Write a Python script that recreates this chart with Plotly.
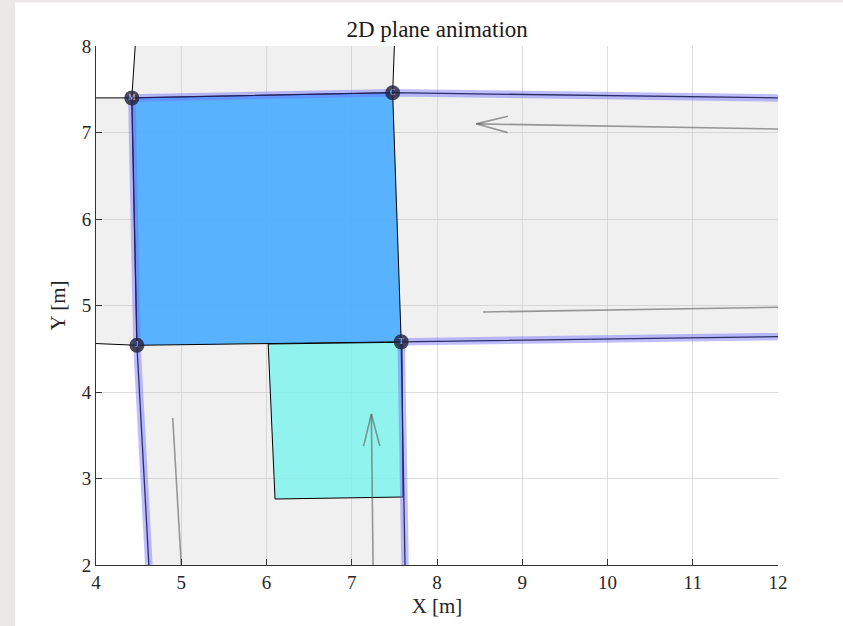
import numpy as np
import plotly.graph_objects as go

# ---------------- data ----------------
node_names = ["M", "C", "T", "J"]
node_x = [4.42, 7.48, 7.58, 4.48]
node_y = [7.40, 7.46, 4.58, 4.54]

# road (grey) area outline
road_x = [4.0, 4.42, 4.46, 7.50, 7.48, 12.0, 12.0, 7.58, 7.625, 4.62, 4.48, 4.0]
road_y = [7.40, 7.40, 8.0, 8.0, 7.46, 7.40, 4.64, 4.58, 2.0, 2.0, 4.54, 4.56]

# blue block (M, C, T, J)
blue_x = [4.42, 7.48, 7.58, 4.48]
blue_y = [7.40, 7.46, 4.58, 4.54]

# cyan block
cyan_x = [6.02, 7.59, 7.60, 6.10]
cyan_y = [4.555, 4.575, 2.786, 2.763]

# purple road boundaries
purple_a_x = [12.0, 7.48, 4.42, 4.48, 4.62]
purple_a_y = [7.40, 7.46, 7.40, 4.54, 2.0]
purple_b_x = [12.0, 7.58, 7.625]
purple_b_y = [4.64, 4.58, 2.0]

# thin black lane lines
black_lines = [
    ([4.0, 4.42], [7.40, 7.40]),
    ([4.42, 4.46], [7.40, 8.0]),
    ([7.48, 7.50], [7.46, 8.0]),
    ([4.0, 4.48], [4.56, 4.54]),
]

# grey guide lines: (x_start, y_start, x_end, y_end, has_head)
guide_x0 = [12.0, 12.0, 5.00, 7.25]
guide_y0 = [7.04, 4.98, 2.00, 2.00]
guide_x1 = [8.46, 8.54, 4.90, 7.23]
guide_y1 = [7.10, 4.925, 3.70, 3.745]
guide_head = [True, False, False, True]

# ---------------- figure ----------------
fig = go.Figure()

fig.add_trace(go.Scatter(x=road_x + [road_x[0]], y=road_y + [road_y[0]], mode="lines",
                         fill="toself", fillcolor="rgba(200,200,200,0.27)",
                         line=dict(width=0), hoverinfo="skip", showlegend=False))

fig.add_trace(go.Scatter(x=blue_x + [blue_x[0]], y=blue_y + [blue_y[0]], mode="lines",
                         fill="toself", fillcolor="rgba(75,172,255,0.92)",
                         line=dict(color="black", width=1), showlegend=False))

fig.add_trace(go.Scatter(x=cyan_x + [cyan_x[0]], y=cyan_y + [cyan_y[0]], mode="lines",
                         fill="toself", fillcolor="rgba(128,243,236,0.85)",
                         line=dict(color="black", width=1), showlegend=False))

for bx, by in black_lines:
    fig.add_trace(go.Scatter(x=bx, y=by, mode="lines",
                             line=dict(color="black", width=1), showlegend=False))

for px, py in [(purple_a_x, purple_a_y), (purple_b_x, purple_b_y)]:
    fig.add_trace(go.Scatter(x=px, y=py, mode="lines",
                             line=dict(color="rgba(110,110,255,0.45)", width=7.5),
                             showlegend=False))
    fig.add_trace(go.Scatter(x=px, y=py, mode="lines",
                             line=dict(color="rgba(30,30,90,0.9)", width=1.3),
                             showlegend=False))

gcol = "rgba(95,95,95,0.62)"
for x0, y0, x1, y1, h in zip(guide_x0, guide_y0, guide_x1, guide_y1, guide_head):
    fig.add_trace(go.Scatter(x=[x0, x1], y=[y0, y1], mode="lines",
                             line=dict(color=gcol, width=1.6), showlegend=False))
    if h:
        d = np.array([x1 - x0, y1 - y0])
        d = d / np.linalg.norm(d)
        n = np.array([-d[1], d[0]])
        L, W = 0.37, 0.095
        base = np.array([x1, y1]) - L * d
        p1 = base + W * n
        p2 = base - W * n
        fig.add_trace(go.Scatter(x=[p1[0], x1, p2[0]], y=[p1[1], y1, p2[1]], mode="lines",
                                 line=dict(color=gcol, width=1.6), showlegend=False))

fig.add_trace(go.Scatter(x=node_x, y=node_y, mode="markers+text", text=node_names,
                         textposition="middle center",
                         textfont=dict(color="rgba(220,220,255,0.9)", size=8, family="Liberation Serif"),
                         marker=dict(size=15, color="rgba(35,35,60,0.82)"),
                         showlegend=False))

serif = "Liberation Serif"
fig.update_layout(
    width=843, height=626,
    margin=dict(l=96, r=65, t=46, b=61),
    paper_bgcolor="white", plot_bgcolor="white",
    title=dict(text="2D plane animation", x=0.5185, xanchor="center", y=0.954, yanchor="middle",
               font=dict(family=serif, size=23, color="#1a1a1a")),
    xaxis=dict(range=[4, 12], tickvals=list(range(4, 13)), showgrid=True,
               gridcolor="rgba(210,210,210,0.75)", gridwidth=1, zeroline=False,
               showline=True, linecolor="#333333", linewidth=1,
               ticks="inside", ticklen=6, tickcolor="#333333",
               tickfont=dict(family=serif, size=19, color="#262626"),
               title=dict(text="X [m]", font=dict(family=serif, size=21, color="#262626"), standoff=6)),
    yaxis=dict(range=[2, 8], tickvals=list(range(2, 9)), showgrid=True,
               gridcolor="rgba(210,210,210,0.75)", gridwidth=1, zeroline=False,
               showline=True, linecolor="#333333", linewidth=1,
               ticks="inside", ticklen=6, tickcolor="#333333",
               tickfont=dict(family=serif, size=19, color="#262626"),
               title=dict(text="Y [m]", font=dict(family=serif, size=21, color="#262626"), standoff=10)),
    shapes=[
        dict(type="rect", xref="paper", yref="paper", x0=-96/682, x1=(15-96)/682,
             y0=-61/519, y1=626/519 - 61/519 + 0.01, fillcolor="#ece8e8", line=dict(width=0), layer="below"),
        dict(type="rect", xref="paper", yref="paper", x0=-96/682, x1=(843-96)/682,
             y0=(565-2.5)/519, y1=(565+5)/519, fillcolor="#ece8e8", line=dict(width=0), layer="below"),
    ],
)

fig.write_html("out.html", config={"displayModeBar": False},
               post_script="document.body.style.margin='0';document.body.style.overflow='hidden';")
